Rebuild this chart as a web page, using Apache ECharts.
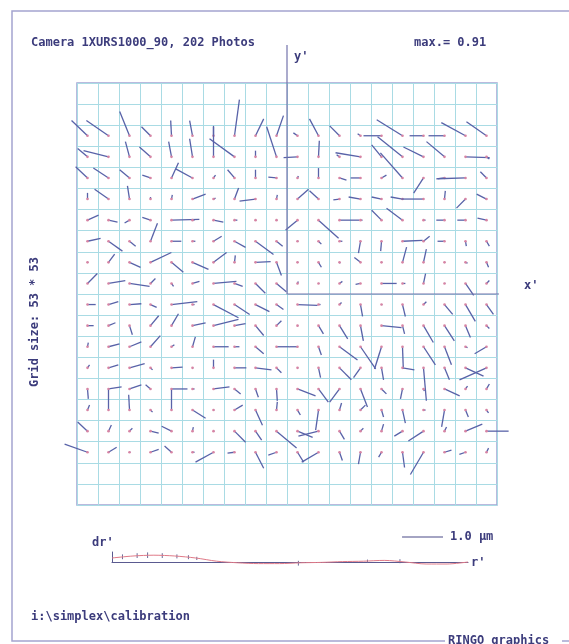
<!DOCTYPE html>
<html>
<head>
<meta charset="utf-8">
<script src="https://cdn.jsdelivr.net/npm/echarts@6/dist/echarts.min.js"></script>
<style>
  html, body { margin: 0; padding: 0; background: #fff; }
  #chart { width: 569px; height: 644px; }
</style>
</head>
<body>
<div id="chart"></div>
<script>
// residual vectors, µm, one row per grid row (top to bottom), 20 columns (left to right)
const dxRows = [
  [-0.39,-0.54,-0.24,-0.22,-0.02,-0.07,0.00,0.12,0.20,0.17,-0.10,-0.22,-0.24,-0.07,-0.44,-0.63,-0.34,-0.39,-0.59,-0.49],
  [-0.24,-0.61,-0.10,-0.27,-0.07,-0.07,0.00,-0.61,0.00,-0.24,-0.34,0.02,-0.07,-0.61,-0.24,-0.61,-0.49,-0.44,0.59,0.07],
  [-0.29,-0.37,-0.24,-0.20,0.17,-0.41,0.05,-0.17,0.00,-0.20,0.02,0.00,0.17,-0.24,0.12,-0.54,-0.24,-0.20,-0.68,-0.15],
  [0.00,-0.34,-0.05,0.00,0.02,0.32,0.05,0.10,-0.39,0.02,0.27,-0.22,-0.15,-0.29,-0.24,-0.29,-0.54,0.02,-0.22,-0.24],
  [0.27,0.22,-0.12,-0.20,0.68,0.05,0.24,0.07,0.02,0.02,-0.29,0.49,0.49,0.05,-0.24,-0.39,0.05,-0.20,-0.20,-0.22],
  [0.32,0.34,0.15,0.17,0.24,0.07,0.20,0.27,0.44,0.15,0.02,0.07,0.07,-0.05,-0.02,0.49,0.15,-0.17,0.02,0.07],
  [0.02,0.15,0.27,0.51,0.29,0.39,0.32,0.02,0.37,0.12,0.02,0.07,0.02,-0.15,0.02,0.10,0.07,0.02,0.05,0.05],
  [0.24,0.41,0.49,0.12,0.05,0.17,0.56,0.20,0.24,0.24,0.02,0.02,0.07,-0.12,0.37,0.07,0.05,0.02,0.20,0.07],
  [0.20,0.24,0.29,0.15,0.63,0.05,0.61,0.37,0.34,0.17,0.49,0.05,0.05,0.05,0.02,0.07,0.07,0.20,0.24,0.17],
  [0.15,0.17,0.07,0.20,0.17,0.32,0.61,0.27,0.20,0.12,0.02,0.12,0.20,0.07,0.49,0.05,0.24,0.24,0.12,0.07],
  [0.02,0.27,0.29,0.24,0.07,0.07,0.37,0.12,0.20,0.32,-0.20,0.07,0.44,0.37,-0.17,0.02,0.29,0.17,0.05,-0.29],
  [0.05,0.24,0.37,0.05,0.27,0.02,0.00,0.29,0.39,0.12,0.02,0.05,0.29,-0.17,0.05,0.29,0.07,0.12,0.44,-0.66],
  [0.02,0.32,0.29,-0.12,0.39,0.05,0.39,0.15,0.07,0.02,0.44,0.24,-0.24,0.17,0.12,-0.05,0.02,0.37,0.05,0.07],
  [0.05,0.00,-0.02,0.05,0.00,0.32,0.02,0.20,0.17,0.02,0.07,-0.07,0.05,0.12,0.05,0.07,0.05,-0.07,0.07,0.05],
  [-0.24,0.07,0.07,0.20,-0.24,0.02,0.02,0.27,0.15,0.49,0.37,-0.49,0.12,0.07,0.05,-0.20,-0.37,0.05,0.41,0.54],
  [-0.56,0.20,0.02,0.20,-0.17,0.05,-0.44,-0.17,0.20,-0.20,0.15,-0.41,0.07,-0.05,-0.07,0.05,-0.32,0.17,-0.15,0.05]
];
const dyRows = [
  [0.37,0.37,0.59,0.22,0.37,0.37,0.24,0.88,0.41,0.49,0.07,0.41,0.24,0.05,0.00,0.39,0.00,0.00,0.32,0.34],
  [0.20,0.15,0.37,0.24,0.37,0.44,0.73,0.44,0.15,0.73,-0.02,0.39,0.05,0.10,0.29,0.49,0.24,0.37,-0.02,-0.05],
  [0.27,0.24,0.20,0.07,0.37,0.22,0.07,0.20,0.20,0.02,0.05,0.24,-0.05,0.00,0.07,0.61,-0.37,-0.02,-0.02,0.15],
  [0.15,0.24,0.32,0.05,0.10,0.12,0.02,0.27,-0.05,0.10,0.24,0.20,-0.02,0.05,0.05,0.05,0.00,0.20,-0.22,0.12],
  [0.12,-0.05,-0.07,0.07,0.02,0.00,-0.05,0.00,0.00,0.00,-0.24,-0.44,0.00,0.00,0.24,0.29,0.00,0.00,0.00,0.05],
  [0.07,-0.24,-0.12,0.44,0.00,0.00,0.12,-0.15,-0.32,-0.12,0.00,-0.07,0.00,-0.29,-0.24,0.02,0.12,0.00,-0.12,-0.12],
  [0.00,0.20,-0.12,0.24,-0.24,-0.17,0.24,0.17,0.02,-0.32,0.00,-0.12,-0.02,0.12,0.00,0.37,0.32,0.00,-0.02,-0.12],
  [0.24,0.07,-0.07,0.12,-0.07,0.05,0.05,-0.07,-0.24,-0.20,0.05,0.00,0.05,-0.02,0.00,0.00,0.24,0.00,-0.29,0.07],
  [0.00,0.07,0.02,-0.07,0.07,0.00,-0.32,-0.24,-0.17,-0.12,-0.02,0.00,0.05,-0.29,0.00,-0.29,0.07,-0.24,-0.41,-0.24],
  [0.00,0.07,-0.22,0.24,0.29,0.07,0.15,0.05,-0.24,0.12,0.00,-0.20,-0.32,-0.37,-0.05,-0.20,-0.41,-0.37,-0.29,-0.07],
  [0.10,0.07,0.12,0.27,0.05,0.24,0.00,0.00,-0.17,0.00,0.00,-0.20,-0.32,-0.54,-0.54,-0.54,-0.44,-0.44,-0.02,-0.17],
  [0.07,0.07,0.10,-0.05,0.02,0.00,0.20,0.00,-0.05,-0.12,0.00,-0.24,-0.29,-0.24,-0.29,-0.05,-0.80,-0.29,-0.20,-0.29],
  [-0.24,0.05,0.10,0.10,0.00,0.00,0.05,-0.12,-0.20,-0.29,-0.17,-0.32,-0.32,-0.44,-0.12,-0.24,-0.05,-0.17,0.07,0.12],
  [0.12,0.49,0.37,-0.05,0.49,-0.20,0.00,0.12,-0.37,0.20,-0.12,-0.49,0.17,0.12,-0.17,-0.32,0.00,-0.41,-0.17,-0.07],
  [0.22,0.15,0.07,-0.05,0.12,0.10,0.00,-0.27,-0.22,-0.41,-0.15,-0.12,-0.20,0.07,0.17,-0.12,-0.24,0.10,0.17,0.00],
  [0.20,0.12,0.00,0.07,0.15,0.00,-0.24,-0.02,-0.39,-0.07,-0.24,-0.24,-0.20,-0.29,-0.12,-0.37,-0.54,0.05,-0.05,0.10]
];
// grid-point positions in grid cells, origin at the image centre
const colX = [-9.5,-8.5,-7.5,-6.5,-5.5,-4.5,-3.5,-2.5,-1.5,-0.5,0.5,1.5,2.5,3.5,4.5,5.5,6.5,7.5,8.5,9.5];
const rowY = [7.5,6.5,5.5,4.5,3.5,2.5,1.5,0.5,-0.5,-1.5,-2.5,-3.5,-4.5,-5.5,-6.5,-7.5];

// radial profile dr'(r')
const profR = [0,2,4,6,8,10,12,14,16,18,20,22,24,26,28,30,32,34];
const profDr = [0.10,0.15,0.17,0.15,0.10,0.02,-0.02,-0.04,-0.04,-0.02,-0.01,0.01,0.02,0.04,0.00,-0.05,-0.05,0.00];
const errR = [1.0,2.4,3.4,4.8,6.2,7.3,8.1,17.8,24.4,27.5];
const errDr = [0.13,0.16,0.17,0.16,0.14,0.12,0.09,-0.03,0.02,0.02];
const errHalf = [0.06,0.06,0.07,0.06,0.05,0.05,0.04,0.06,0.04,0.05];

const scaleMicron = 1.0;
const micronToCell = 1.95; // 1.0 µm scale bar = 41 px, grid pitch 21 px

const mono = '"DejaVu Sans Mono", monospace';
const ink = '#3c3c7c';

const vectors = [];
rowY.forEach((y, j) => {
  colX.forEach((x, i) => {
    vectors.push([x, y, dxRows[j][i], dyRows[j][i]]);
  });
});

const chart = echarts.init(document.getElementById('chart'));

function txt(text, x, y, extra) {
  return Object.assign({
    type: 'text', x: x, y: y,
    style: { text: text, fill: ink, font: 'bold 12px ' + mono, textVerticalAlign: 'middle' }
  }, extra || {});
}

const pxPerMicron = 21 * micronToCell;

chart.setOption({
  animation: false,
  backgroundColor: '#fff',
  grid: [
    { left: 77, top: 83, width: 420, height: 422, show: true, borderColor: '#a4a4d4', borderWidth: 1.5, backgroundColor: 'transparent' },
    { left: 112, top: 552, width: 356, height: 10 }
  ],
  xAxis: [
    { gridIndex: 0, type: 'value', min: -10, max: 10, interval: 1,
      axisLine: { show: false }, axisTick: { show: false }, axisLabel: { show: false },
      splitLine: { show: true, lineStyle: { color: '#a9dbe4', width: 1 } } },
    { gridIndex: 1, type: 'value', min: 0, max: 34,
      axisLine: { show: true, onZero: false, lineStyle: { color: '#5a5a90', width: 1 } },
      axisTick: { show: false }, axisLabel: { show: false }, splitLine: { show: false } }
  ],
  yAxis: [
    { gridIndex: 0, type: 'value', min: -10, max: 10, interval: 1,
      axisLine: { show: false }, axisTick: { show: false }, axisLabel: { show: false },
      splitLine: { show: true, lineStyle: { color: '#a9dbe4', width: 1 } } },
    { gridIndex: 1, type: 'value', min: 0, max: 0.25,
      axisLine: { show: true, lineStyle: { color: '#5a5a90', width: 1 } },
      axisTick: { show: false }, axisLabel: { show: false }, splitLine: { show: false } }
  ],
  series: [
    {
      type: 'line', xAxisIndex: 0, yAxisIndex: 0, clip: false, symbol: 'none',
      lineStyle: { color: '#7474ac', width: 1.2 },
      data: [[0, 11.8], [0, 0], [11.1, 0]]
    },
    {
      type: 'custom', xAxisIndex: 0, yAxisIndex: 0, clip: false,
      data: vectors,
      renderItem: function (params, api) {
        const x = api.value(0), y = api.value(1);
        const p0 = api.coord([x, y]);
        const p1 = api.coord([x + api.value(2) * micronToCell, y + api.value(3) * micronToCell]);
        return {
          type: 'group',
          children: [
            { type: 'line', shape: { x1: p0[0], y1: p0[1], x2: p1[0], y2: p1[1] },
              style: { stroke: '#5862a8', lineWidth: 1.3 } },
            { type: 'circle', shape: { cx: p0[0], cy: p0[1], r: 1.3 },
              style: { fill: '#d784a4' } }
          ]
        };
      }
    },
    {
      type: 'line', xAxisIndex: 1, yAxisIndex: 1, clip: false, symbol: 'none', smooth: 0.3,
      lineStyle: { color: '#e07a88', width: 1 },
      data: profR.map((r, i) => [r, profDr[i]])
    },
    {
      type: 'custom', xAxisIndex: 1, yAxisIndex: 1, clip: false,
      data: errR.map((r, i) => [r, errDr[i], errHalf[i]]),
      renderItem: function (params, api) {
        const a = api.coord([api.value(0), api.value(1) + api.value(2)]);
        const b = api.coord([api.value(0), api.value(1) - api.value(2)]);
        return { type: 'line', shape: { x1: a[0], y1: a[1], x2: b[0], y2: b[1] },
          style: { stroke: '#6a6a98', lineWidth: 1 } };
      }
    }
  ],
  graphic: [
    // outer frame
    { type: 'polyline', shape: { points: [[569, 11], [12, 11], [12, 641], [445, 641]] },
      style: { stroke: '#a4a4d0', lineWidth: 1.5, fill: null } },
    { type: 'line', shape: { x1: 562, y1: 641, x2: 569, y2: 641 }, style: { stroke: '#a4a4d0', lineWidth: 1.5 } },
    txt('Camera 1XURS1000_90, 202 Photos', 31, 43),
    txt('max.= 0.91', 414, 43),
    txt("y'", 294, 57),
    txt("x'", 524, 286),
    txt('Grid size: 53 * 53', 35, 322, { rotation: Math.PI / 2, style: { text: 'Grid size: 53 * 53', fill: ink, font: 'bold 12px ' + mono, textAlign: 'center', textVerticalAlign: 'middle' } }),
    txt("dr'", 92, 543),
    { type: 'line', shape: { x1: 443 - scaleMicron * pxPerMicron, y1: 537, x2: 443, y2: 537 },
      style: { stroke: '#4a4a88', lineWidth: 1.2 } },
    txt('1.0 µm', 450, 537),
    txt("r'", 471, 563),
    txt('i:\\simplex\\calibration', 31, 617),
    txt('RINGO graphics', 448, 641)
  ]
});
</script>
</body>
</html>
